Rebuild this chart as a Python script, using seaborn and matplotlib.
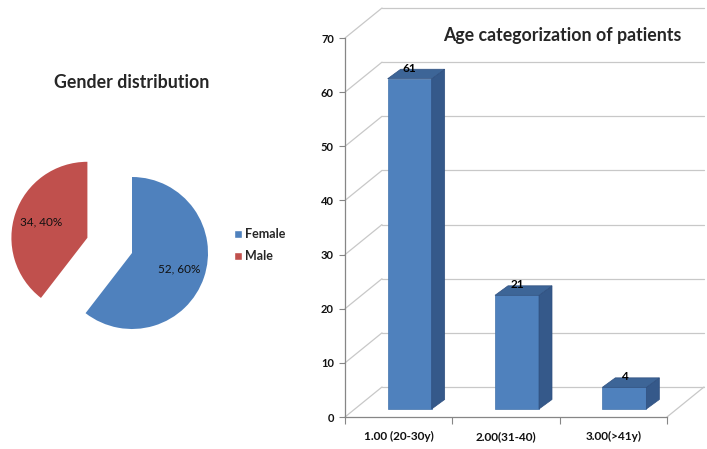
import matplotlib
matplotlib.use("Agg")
import matplotlib.pyplot as plt
import seaborn as sns
import pandas as pd
from matplotlib.patches import Polygon, Patch

# ---- data ----
genders = ["Female", "Male"]
gender_counts = [52, 34]
gender_colors = ["#4F81BD", "#C0504D"]
age_groups = ["1.00 (20-30y)", "2.00(31-40)", "3.00(>41y)"]
age_counts = [61, 21, 4]
y_ticks = [0, 10, 20, 30, 40, 50, 60, 70]

sns.set_theme(style="white")
plt.rcParams['font.family'] = ['Lato', 'DejaVu Sans']

W, H = 707, 449
fig = plt.figure(figsize=(W / 100, H / 100), dpi=100)


def rect(l, t, r, b):
    return [l / W, 1 - b / H, (r - l) / W, (b - t) / H]


# ---------------- bar chart (pseudo 3D) ----------------
ax = fig.add_axes(rect(345, 38, 667, 417))
df = pd.DataFrame({"age": age_groups, "n": age_counts})
sns.barplot(data=df, x="age", y="n", ax=ax, color="#4F81BD", width=0.41,
            saturation=1, edgecolor="#4474AC", linewidth=0.5, zorder=3)
ax.set_xlim(-0.5, 2.5)
ax.set_ylim(0, 70)

pxx = 322 / 3.0      # px per category unit
pxy = 379 / 70.0     # px per y unit
ddx, ddy = 11 / pxx, 8 / pxy        # bar front-face depth shift
sdx, sdy = 13 / pxx, 9.5 / pxy      # bar depth
wdx, wdy = 37 / pxx, 30 / pxy       # back wall depth

grid_c = "#C8C8C8"
for v in y_ticks:
    ax.plot([-0.5 + wdx, 2.5 + wdx], [v + wdy, v + wdy], color=grid_c, lw=0.9,
            clip_on=False, zorder=0)
    ax.plot([-0.5, -0.5 + wdx], [v, v + wdy], color=grid_c, lw=0.9,
            clip_on=False, zorder=0)
ax.plot([2.5, 2.5 + wdx], [0, wdy], color=grid_c, lw=0.9, clip_on=False, zorder=0)

for p, v in zip(ax.patches, age_counts):
    p.set_x(p.get_x() + ddx)
    p.set_y(ddy)
    x0 = p.get_x()
    x1 = x0 + p.get_width()
    y0 = ddy
    y1 = ddy + p.get_height()
    side = Polygon([(x1, y0), (x1 + sdx, y0 + sdy), (x1 + sdx, y1 + sdy), (x1, y1)],
                   closed=True, facecolor="#35598A", edgecolor="#2F5080", lw=0.5,
                   zorder=3, clip_on=False)
    top = Polygon([(x0, y1), (x1, y1), (x1 + sdx, y1 + sdy), (x0 + sdx, y1 + sdy)],
                  closed=True, facecolor="#3D6597", edgecolor="#2F5080", lw=0.5,
                  zorder=3, clip_on=False)
    ax.add_patch(side)
    ax.add_patch(top)
    ax.text((x0 + x1) / 2, v + 3.4, str(v), ha="center", va="center",
            fontsize=8.5, fontweight="bold", color="black", zorder=5, clip_on=False)

for s in ["top", "right"]:
    ax.spines[s].set_visible(False)
for s in ["left", "bottom"]:
    ax.spines[s].set_color("#868686")
    ax.spines[s].set_linewidth(0.9)
ax.set_xlabel("")
ax.set_ylabel("")
ax.set_yticks(y_ticks)
ax.tick_params(axis="y", left=True, length=4, width=0.8, color="#868686",
               labelsize=8, pad=4)
ax.set_xticks([-0.5, 0.5, 1.5, 2.5], minor=True)
ax.tick_params(axis="x", which="minor", bottom=True, length=5, width=0.8, color="#868686")
ax.tick_params(axis="x", which="major", bottom=False, length=0, labelsize=8.5, pad=10)
for t in ax.get_xticklabels() + ax.get_yticklabels():
    t.set_fontweight("bold")
    t.set_color("#111111")

fig.text(562 / W, 1 - 35 / H, "Age categorization of patients", ha="center",
         va="center", fontsize=12.8, fontweight="bold")

# ---------------- pie chart ----------------
pax = fig.add_axes(rect(0, 150, 240, 350))
total = sum(gender_counts)


def fmt(pct):
    n = int(round(pct * total / 100.0))
    return f"{n}, {int(round(pct))}%"


pax.pie(gender_counts, colors=gender_colors, startangle=90, counterclock=False,
        explode=[0, 0.62], autopct=fmt, pctdistance=0.65,
        textprops=dict(fontsize=8.5, color="#111111"),
        wedgeprops=dict(linewidth=0))
r = 76.0
pax.set_xlim(-132 / r, 108 / r)
pax.set_ylim(-97 / r, 103 / r)
pax.set_aspect("equal")
pax.axis("off")

fig.text(132 / W, 1 - 83 / H, "Gender distribution", ha="center", va="center",
         fontsize=12.8, fontweight="bold")

handles = [Patch(facecolor=c, label=g) for g, c in zip(genders, gender_colors)]
fig.legend(handles=handles, loc="center left", bbox_to_anchor=(223 / W, 1 - 245 / H),
           frameon=False, prop=dict(size=9, weight="bold"), handlelength=0.6,
           handleheight=0.6, handletextpad=0.3, labelspacing=0.8)

fig.savefig("out.png", dpi=100)
